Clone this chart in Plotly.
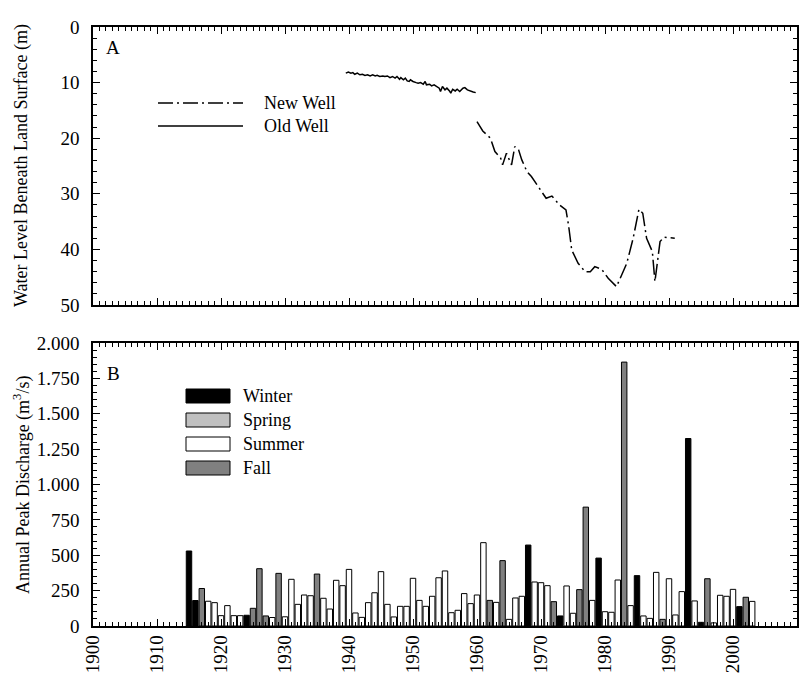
import plotly.graph_objects as go

# ---------------- Panel A data: water level (m below land surface) ----------------
old_well_year = [1939.5, 1939.9, 1940.3, 1940.6, 1940.9, 1941.3, 1941.7, 1942.1, 1942.5, 1942.9,
                 1943.3, 1943.7, 1944.1, 1944.4, 1944.8, 1945.3, 1945.6, 1946.0, 1946.4, 1946.8,
                 1947.2, 1947.5, 1947.9, 1948.1, 1948.5, 1948.8, 1949.1, 1949.4, 1949.6, 1950.0,
                 1950.5, 1950.8, 1951.2, 1951.6, 1951.9, 1952.1, 1952.6, 1952.9, 1953.3, 1953.7,
                 1954.1, 1954.3, 1954.6, 1955.0, 1955.3, 1955.7, 1955.9, 1956.2, 1956.6, 1956.9,
                 1957.3, 1957.8, 1958.1, 1958.5, 1958.9, 1959.4, 1959.8]
old_well_depth = [8.3, 8.1, 8.3, 8.2, 8.5, 8.3, 8.6, 8.5, 8.7, 8.6,
                  8.8, 8.6, 8.8, 8.7, 8.9, 8.8, 8.9, 8.8, 9.1, 8.9,
                  9.2, 8.9, 9.4, 9.1, 9.5, 9.2, 9.7, 9.8, 9.5, 9.8,
                  10.0, 10.1, 10.0, 10.3, 9.8, 10.4, 10.3, 10.6, 10.4, 10.7,
                  11.0, 11.6, 10.7, 11.3, 11.0, 11.5, 11.9, 11.2, 11.5, 11.2,
                  11.6, 11.0, 10.9, 11.3, 11.5, 11.7, 11.8]

new_well_year = [1960.0, 1960.9, 1962.1, 1962.8, 1963.7, 1964.0, 1964.6, 1965.4, 1965.9, 1966.5,
                 1967.0, 1967.8, 1968.5, 1969.8, 1970.8, 1971.7, 1972.9, 1973.9, 1974.3, 1974.8,
                 1975.8, 1976.9, 1977.7, 1978.4, 1979.5, 1980.5, 1981.8, 1983.4, 1984.4, 1985.3,
                 1985.9, 1986.5, 1986.9, 1987.4, 1987.8, 1988.1, 1988.6, 1989.2, 1990.9]
new_well_depth = [17.0, 18.7, 20.0, 22.4, 23.6, 24.8, 22.7, 24.8, 21.5, 22.1,
                  23.9, 26.0, 26.9, 29.0, 30.8, 30.4, 32.0, 32.9, 35.6, 40.1,
                  42.5, 44.0, 44.0, 43.1, 43.6, 45.2, 46.7, 42.5, 38.0, 32.8,
                  33.5, 38.0, 39.2, 40.4, 45.8, 43.1, 38.6, 37.8, 38.0]

# ---------------- Panel B data: annual peak discharge (m3/s) ----------------
peak_year = list(range(1915, 2004))
peak_value = [530, 180, 265, 175, 165, 73, 144, 73, 73, 76,
              125, 405, 71, 60, 372, 65, 330, 153, 219, 214,
              367, 196, 120, 323, 285, 400, 92, 61, 165, 235,
              384, 153, 64, 139, 139, 337, 181, 139, 210, 341,
              389, 94, 111, 229, 158, 219, 589, 181, 167, 462,
              47, 198, 210, 572, 311, 306, 285, 172, 71, 283,
              90, 257, 840, 181, 480, 101, 97, 325, 1865, 144,
              356, 71, 54, 379, 47, 334, 78, 243, 1325, 177,
              26, 334, 22, 217, 210, 259, 137, 203, 174]
peak_season = ["Winter", "Winter", "Fall", "Summer", "Summer", "Summer", "Summer", "Summer", "Summer", "Winter",
               "Fall", "Fall", "Fall", "Summer", "Fall", "Summer", "Summer", "Summer", "Summer", "Summer",
               "Fall", "Summer", "Summer", "Summer", "Summer", "Summer", "Summer", "Summer", "Summer", "Summer",
               "Summer", "Summer", "Summer", "Summer", "Summer", "Summer", "Summer", "Summer", "Summer", "Summer",
               "Summer", "Summer", "Summer", "Summer", "Summer", "Summer", "Summer", "Fall", "Summer", "Fall",
               "Summer", "Summer", "Summer", "Winter", "Summer", "Summer", "Summer", "Fall", "Winter", "Summer",
               "Summer", "Fall", "Fall", "Summer", "Winter", "Summer", "Summer", "Summer", "Fall", "Summer",
               "Winter", "Summer", "Summer", "Summer", "Fall", "Summer", "Summer", "Summer", "Winter", "Summer",
               "Winter", "Fall", "Summer", "Summer", "Summer", "Summer", "Winter", "Fall", "Summer"]

seasons = ["Winter", "Spring", "Summer", "Fall"]
season_colors = ["#000000", "#c0c0c0", "#ffffff", "#808080"]

well_names = ["New Well", "Old Well"]
well_dash = ["15px,4px,2px,4px", "solid"]

FONT = "Liberation Serif"

fig = go.Figure()

fig.add_trace(go.Scatter(x=new_well_year, y=new_well_depth, mode="lines", name=well_names[0],
                         line=dict(color="black", width=1.5, dash=well_dash[0]),
                         xaxis="x", yaxis="y", showlegend=False))
fig.add_trace(go.Scatter(x=old_well_year, y=old_well_depth, mode="lines", name=well_names[1],
                         line=dict(color="black", width=1.5, dash=well_dash[1]),
                         xaxis="x", yaxis="y", showlegend=False))

for s, c in zip(seasons, season_colors):
    xs = [y for y, ss in zip(peak_year, peak_season) if ss == s]
    vs = [v for v, ss in zip(peak_value, peak_season) if ss == s]
    fig.add_trace(go.Bar(x=xs, y=vs, name=s, width=0.85,
                         marker=dict(color=c, line=dict(color="black", width=1)),
                         xaxis="x2", yaxis="y2", showlegend=False))

W, H = 803, 673
ML, MR, MT, MB = 93, 6, 27, 47
PW, PH = W - ML - MR, H - MT - MB


def px_x(px):
    return (px - ML) / PW


def px_y(py):
    return (H - MB - py) / PH


axis_common = dict(showline=True, linecolor="black", linewidth=1.5, mirror="ticks",
                   ticks="inside", tickcolor="black", tickwidth=1, ticklen=7,
                   showgrid=False, zeroline=False, automargin=False,
                   tickfont=dict(family=FONT, size=19, color="black"))

shapes = []
annotations = []

# legend for panel A (line samples)
for name, dash, yc in zip(well_names, well_dash, [103, 126]):
    shapes.append(dict(type="line", xref="paper", yref="paper",
                       x0=px_x(158), x1=px_x(243), y0=px_y(yc), y1=px_y(yc),
                       line=dict(color="black", width=1.5, dash=dash)))
    annotations.append(dict(x=px_x(262), y=px_y(yc), xref="paper", yref="paper",
                            text=name, showarrow=False, xanchor="left", yanchor="middle",
                            font=dict(family=FONT, size=18, color="black")))

# legend for panel B (season boxes)
leg_rows = [396, 420, 444, 468]
for s, c, yc in zip(seasons, season_colors, leg_rows):
    shapes.append(dict(type="rect", xref="paper", yref="paper",
                       x0=px_x(186), x1=px_x(230), y0=px_y(yc - 7), y1=px_y(yc + 7),
                       fillcolor=c, line=dict(color="black", width=1)))
    annotations.append(dict(x=px_x(241), y=px_y(yc), xref="paper", yref="paper",
                            text=s, showarrow=False, xanchor="left", yanchor="middle",
                            font=dict(family=FONT, size=18, color="black")))

annotations += [
    dict(x=px_x(113), y=px_y(48), xref="paper", yref="paper", text="A", showarrow=False,
         xanchor="center", yanchor="middle", font=dict(family=FONT, size=19, color="black")),
    dict(x=px_x(113), y=px_y(373), xref="paper", yref="paper", text="B", showarrow=False,
         xanchor="center", yanchor="middle", font=dict(family=FONT, size=19, color="black")),
    dict(x=px_x(22), y=px_y(166), xref="paper", yref="paper",
         text="Water Level Beneath Land Surface (m)", showarrow=False, textangle=-90,
         xanchor="center", yanchor="middle", font=dict(family=FONT, size=18, color="black")),
    dict(x=px_x(22), y=px_y(485), xref="paper", yref="paper",
         text="Annual Peak Discharge (m<sup>3</sup>/s)", showarrow=False, textangle=-90,
         xanchor="center", yanchor="middle", font=dict(family=FONT, size=18, color="black")),
]

fig.update_layout(
    width=W, height=H,
    margin=dict(l=ML, r=MR, t=MT, b=MB, autoexpand=False),
    paper_bgcolor="white", plot_bgcolor="white",
    separators=",.",
    barmode="overlay",
    font=dict(family=FONT, size=18, color="black"),
    showlegend=False,
    xaxis=dict(domain=[0, 1], range=[1900, 2010], anchor="y", showticklabels=False,
               dtick=10, tick0=1900,
               minor=dict(ticks="inside", ticklen=4, dtick=1, tickcolor="black", showgrid=False),
               **axis_common),
    yaxis=dict(domain=[px_y(305), 1], range=[50, 0], anchor="x", dtick=10, tick0=0,
               ticklabelstandoff=8,
               minor=dict(ticks="inside", ticklen=4, dtick=2, tickcolor="black", showgrid=False),
               **axis_common),
    xaxis2=dict(domain=[0, 1], range=[1900, 2010], anchor="y2", tickangle=-90,
                dtick=10, tick0=1900,
                minor=dict(ticks="inside", ticklen=4, dtick=1, tickcolor="black", showgrid=False),
                **axis_common),
    yaxis2=dict(domain=[0, px_y(343)], range=[0, 2000], anchor="x2", dtick=250, tick0=0,
                tickformat=",d", ticklabelstandoff=8,
                minor=dict(ticks="inside", ticklen=4, dtick=50, tickcolor="black", showgrid=False),
                **axis_common),
    shapes=shapes,
    annotations=annotations,
)

fig.write_html("out.html", config={"displayModeBar": False},
               post_script="document.body.style.margin='0';document.body.style.overflow='hidden';")
